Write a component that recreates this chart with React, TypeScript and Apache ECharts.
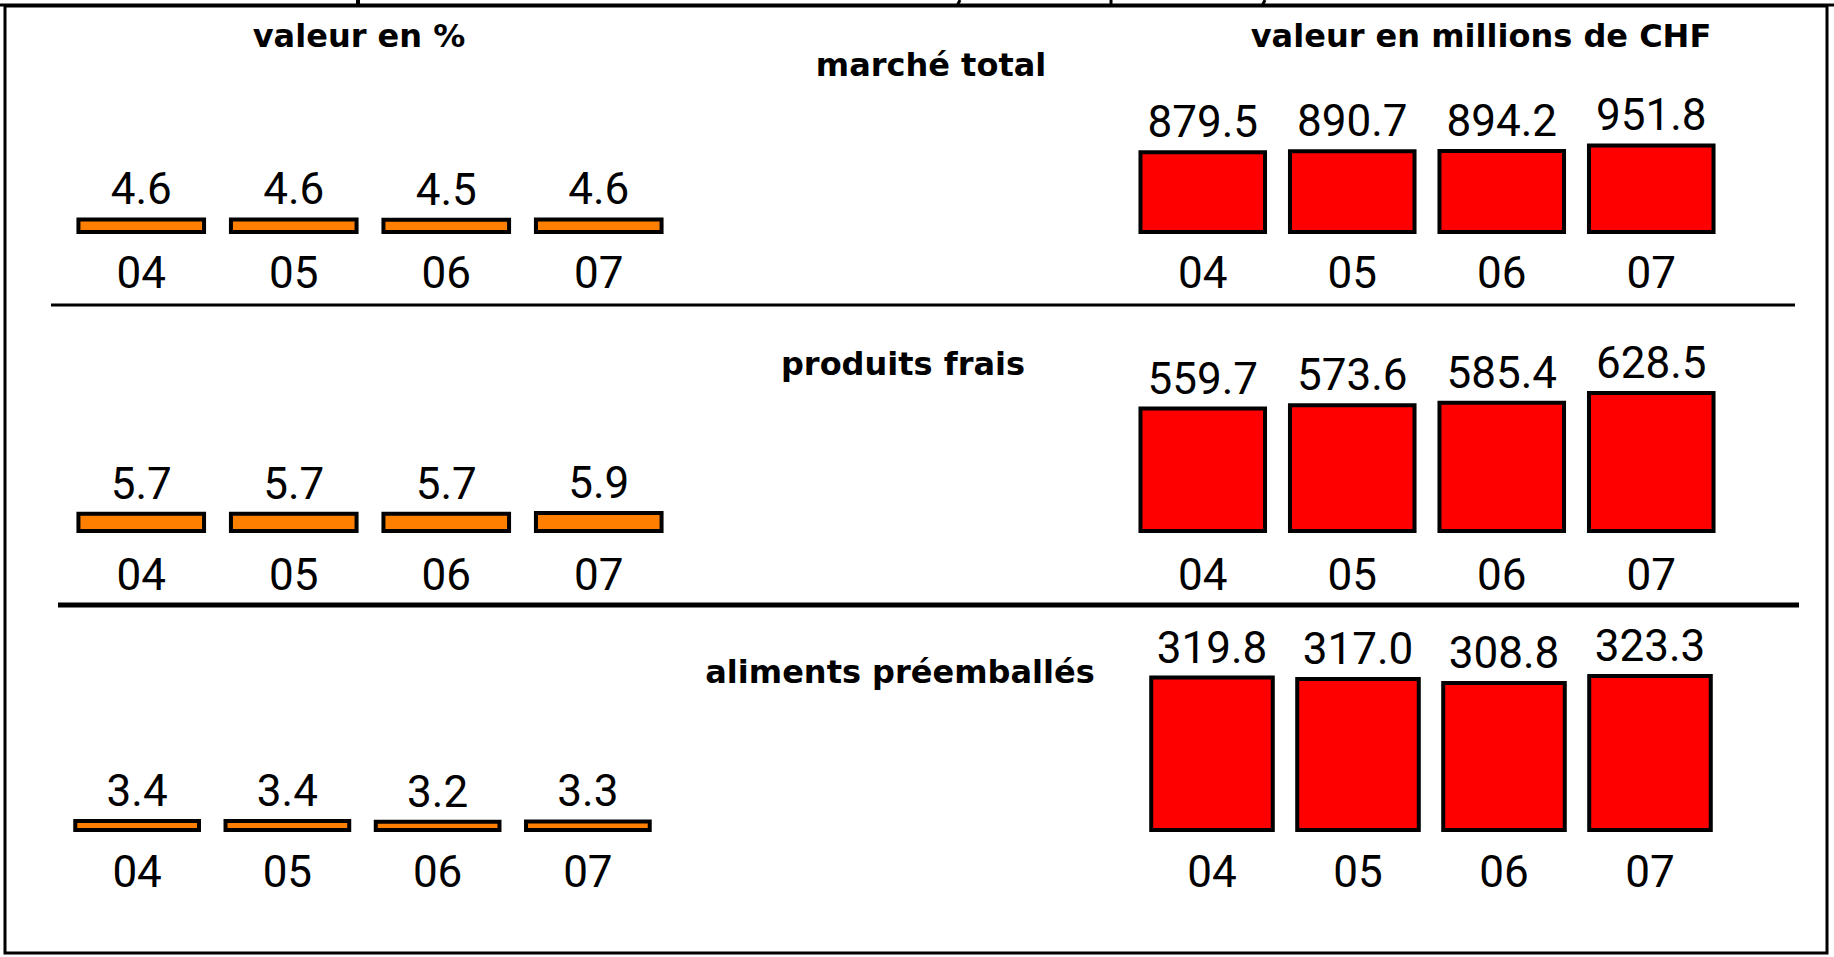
import React, { useEffect, useRef } from "react";
import * as echarts from "echarts";

// ---- data ----
const years = ["04", "05", "06", "07"];
const pctTotal = [4.6, 4.6, 4.5, 4.6];
const pctFresh = [5.7, 5.7, 5.7, 5.9];
const pctPacked = [3.4, 3.4, 3.2, 3.3];
const chfTotal = [879.5, 890.7, 894.2, 951.8];
const chfFresh = [559.7, 573.6, 585.4, 628.5];
const chfPacked = [319.8, 317.0, 308.8, 323.3];
const panelTitles = ["marché total", "produits frais", "aliments préemballés"];
const leftHeader = "valeur en %";
const rightHeader = "valeur en millions de CHF";

// ---- layout ----
const W = 1834;
const H = 957;
const GRID_H = 200;
const baselines = [234, 533, 832];
const labelMargins = [17, 20, 18];
const leftGrids = [
  { left: 65, width: 610 },
  { left: 65, width: 610 },
  { left: 62, width: 601 },
];
const rightGrids = [
  { left: 1128, width: 598 },
  { left: 1128, width: 598 },
  { left: 1139, width: 584 },
];
const leftMax = [200 / 3.6, 200 / 3.75, 200 / 3.8];
const rightMax = [200 / 0.0951, 200 / 0.226, 200 / 0.489];
const titlePos = [
  [931, 65],
  [903, 364],
  [900, 672],
];

const NUM_FONT = "'Liberation Sans Narrow', 'Roboto', sans-serif";
const HEAD_FONT = "'DejaVu Sans', sans-serif";

export default function App() {
  const ref = useRef<HTMLDivElement>(null);

  useEffect(() => {
    document.body.style.margin = "0";
    if (!ref.current) return;
    const chart = echarts.init(ref.current, null, { renderer: "svg" });

    const leftData = [pctTotal, pctFresh, pctPacked];
    const rightData = [chfTotal, chfFresh, chfPacked];

    const grids: any[] = [];
    const xAxes: any[] = [];
    const yAxes: any[] = [];
    const series: any[] = [];

    const addPanel = (
      g: { left: number; width: number },
      base: number,
      max: number,
      data: number[],
      color: string,
      barW: string,
      margin: number
    ) => {
      const idx = grids.length;
      grids.push({ left: g.left, width: g.width, top: base - GRID_H, height: GRID_H, containLabel: false });
      xAxes.push({
        type: "category",
        gridIndex: idx,
        data: years,
        axisLine: { show: false },
        axisTick: { show: false },
        axisLabel: { fontFamily: NUM_FONT, fontSize: 44, color: "#000", margin },
      });
      yAxes.push({ type: "value", gridIndex: idx, min: 0, max, show: false, splitLine: { show: false } });
      series.push({
        type: "bar",
        xAxisIndex: idx,
        yAxisIndex: idx,
        data,
        barWidth: barW,
        itemStyle: { color, borderColor: "#000", borderWidth: 4 },
        label: {
          show: true,
          position: "top",
          distance: 6,
          fontFamily: NUM_FONT,
          fontSize: 44,
          color: "#000",
          formatter: (p: any) => Number(p.value).toFixed(1),
        },
      });
    };

    for (let r = 0; r < 3; r++) {
      addPanel(leftGrids[r], baselines[r], leftMax[r], leftData[r], "#ff8000", "85%", labelMargins[r]);
      addPanel(rightGrids[r], baselines[r], rightMax[r], rightData[r], "#ff0000", "86%", labelMargins[r]);
    }

    const headStyle = (text: string) => ({
      text,
      font: `bold 32px ${HEAD_FONT}`,
      fill: "#000",
      textAlign: "center",
      textVerticalAlign: "middle",
    });

    const graphics: any[] = [
      // outer frame
      { type: "rect", shape: { x: 5, y: 6, width: 1822, height: 947 }, style: { fill: "none", stroke: "#000", lineWidth: 3 } },
      { type: "line", shape: { x1: 0, y1: 5, x2: W, y2: 5 }, style: { stroke: "#000", lineWidth: 3 } },
      // remnants of the cut-off title
      { type: "line", shape: { x1: 358, y1: 0, x2: 358, y2: 6 }, style: { stroke: "#000", lineWidth: 4 } },
      { type: "line", shape: { x1: 960, y1: 0, x2: 957, y2: 6 }, style: { stroke: "#000", lineWidth: 3 } },
      { type: "line", shape: { x1: 1111, y1: 0, x2: 1111, y2: 6 }, style: { stroke: "#000", lineWidth: 3 } },
      { type: "line", shape: { x1: 1265, y1: 0, x2: 1262, y2: 6 }, style: { stroke: "#000", lineWidth: 3 } },
      // separators
      { type: "line", shape: { x1: 51, y1: 305, x2: 1795, y2: 305 }, style: { stroke: "#000", lineWidth: 3 } },
      { type: "line", shape: { x1: 58, y1: 605, x2: 1799, y2: 605 }, style: { stroke: "#000", lineWidth: 5 } },
      // headers
      { type: "text", x: 359, y: 36, style: headStyle(leftHeader) },
      { type: "text", x: 1481, y: 36, style: headStyle(rightHeader) },
    ];
    panelTitles.forEach((t, i) => {
      graphics.push({ type: "text", x: titlePos[i][0], y: titlePos[i][1], style: headStyle(t) });
    });

    chart.setOption({
      animation: false,
      backgroundColor: "#fff",
      grid: grids,
      xAxis: xAxes,
      yAxis: yAxes,
      series,
      graphic: graphics,
    });

    return () => chart.dispose();
  }, []);

  return <div ref={ref} style={{ position: "absolute", left: 0, top: 0, width: W, height: H }} />;
}
